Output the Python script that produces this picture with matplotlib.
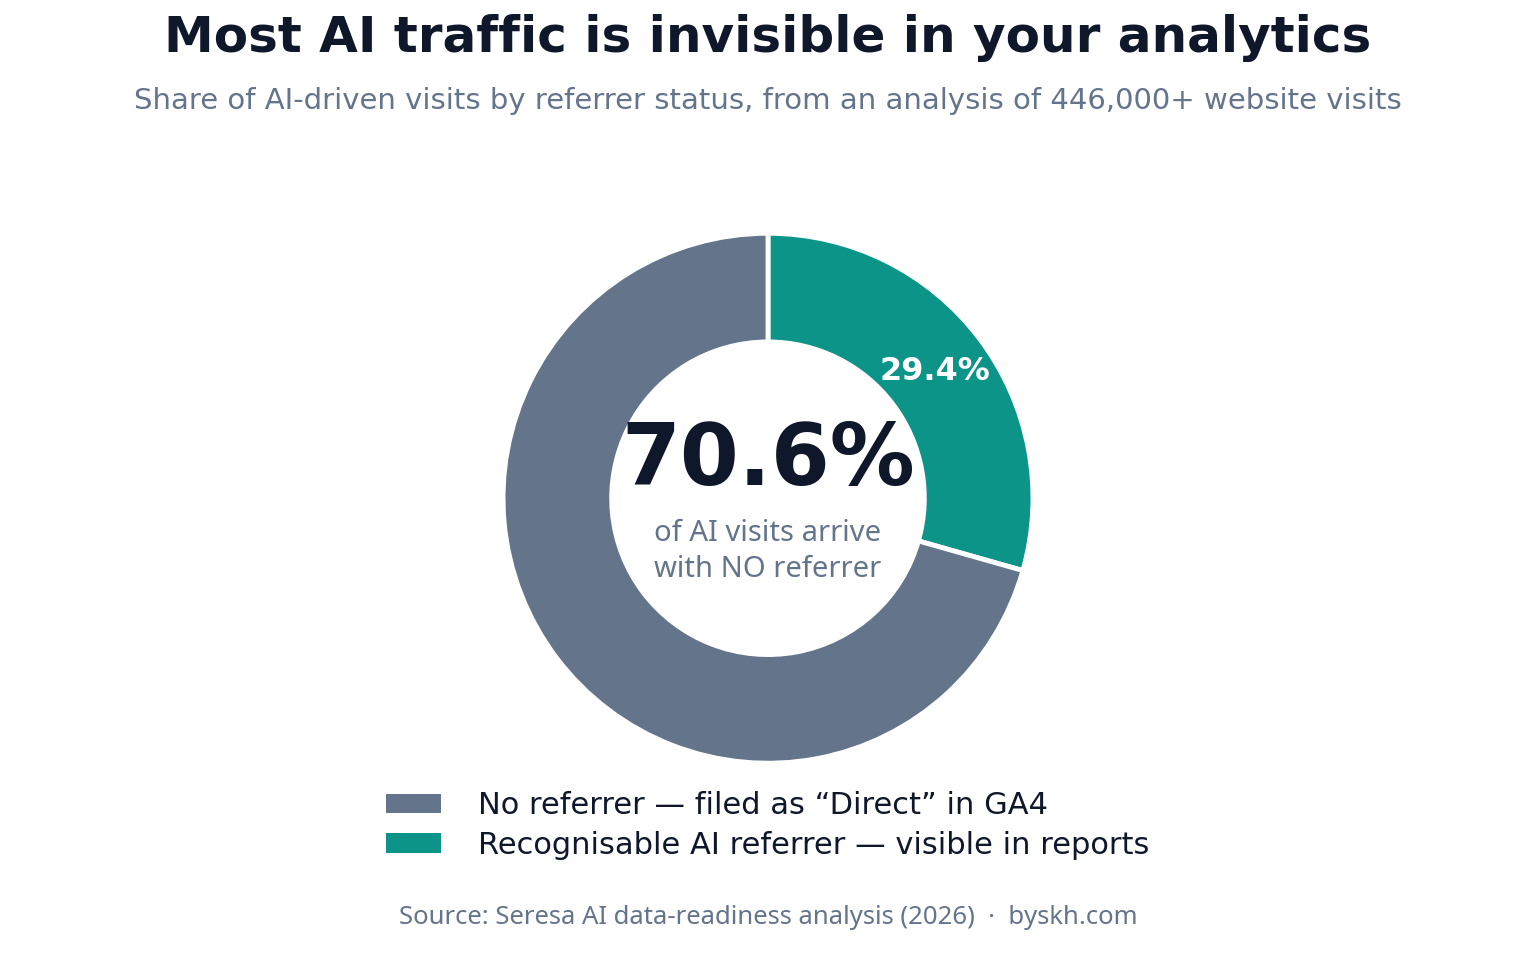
import matplotlib.pyplot as plt
from matplotlib.patches import Patch

labels = ["No referrer — filed as “Direct” in GA4",
          "Recognisable AI referrer — visible in reports"]
shares = [70.6, 29.4]
colors = ["#64748B", "#0D9488"]

fig = plt.figure(figsize=(15.36, 9.6), dpi=100)
fig.patch.set_facecolor("white")

ax = fig.add_axes([0.5 - 0.1725, 0.481 - 0.276, 0.345, 0.552])
# teal first so it starts at 12 o'clock and runs clockwise
wedges, _ = ax.pie([shares[1], shares[0]], colors=[colors[1], colors[0]],
                   startangle=90, counterclock=False, radius=1.0,
                   wedgeprops=dict(width=0.41, edgecolor="white", linewidth=3.5))
ax.set_xlim(-1, 1)
ax.set_ylim(-1, 1)
ax.set_aspect("equal")
ax.axis("off")

ax.text(0.63, 0.48, f"{shares[1]:.1f}%", ha="center", va="center",
        fontsize=23, fontweight="bold", color="white")
ax.text(0, 0.14, f"{shares[0]:.1f}%", ha="center", va="center",
        fontsize=61, fontweight="bold", color="#0F172A")
ax.text(0, -0.2, "of AI visits arrive\nwith NO referrer", ha="center", va="center",
        fontsize=21, color="#64748B", family=["Noto Sans", "DejaVu Sans"],
        linespacing=1.3)

fig.text(0.5, 0.96, "Most AI traffic is invisible in your analytics", ha="center",
         va="center", fontsize=36, fontweight="bold", color="#0F172A")
fig.text(0.5, 0.895, "Share of AI-driven visits by referrer status, from an analysis of 446,000+ website visits",
         ha="center", va="center", fontsize=21, color="#64748B")

handles = [Patch(facecolor=c, edgecolor="none") for c in colors]
fig.legend(handles, labels, loc="center", bbox_to_anchor=(0.5, 0.14), frameon=False,
           fontsize=22, labelcolor="#0F172A", handlelength=1.8, handleheight=0.6,
           handletextpad=1.2, labelspacing=0.35)

fig.text(0.5, 0.044, "Source: Seresa AI data-readiness analysis (2026)  ·  byskh.com",
         ha="center", va="center", fontsize=18.5, color="#64748B",
         family=["Noto Sans", "DejaVu Sans"])

fig.savefig("out.png", dpi=100, facecolor="white")
